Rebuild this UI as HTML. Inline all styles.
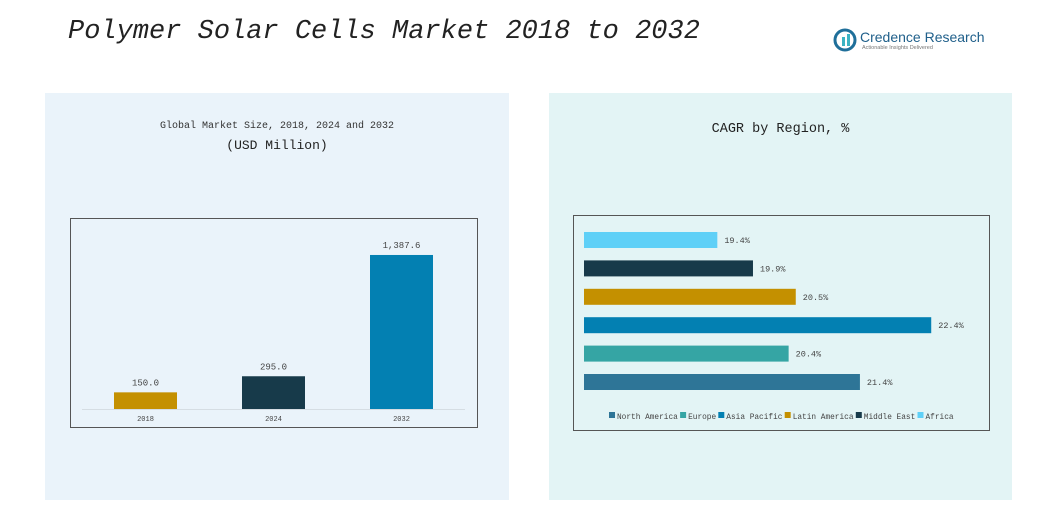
<!DOCTYPE html>
<html><head><meta charset="utf-8"><style>
body{margin:0;width:1062px;height:516px;background:#fff;position:relative;overflow:hidden;font-family:"Liberation Mono","Noto Sans CJK SC",monospace}
.abs{position:absolute}
</style></head><body>
<div class="abs" style="left:68px;top:17px;font:italic 27px 'Liberation Mono',monospace;color:#222;white-space:nowrap">Polymer Solar Cells Market 2018 to 2032</div>
<div class="abs" style="left:833px;top:28px;width:160px;height:26px">
 <svg width="26" height="24"><circle cx="12" cy="12" r="10" fill="none" stroke="#1f6f9a" stroke-width="3"/><rect x="9" y="9" width="3" height="9" fill="#3bb3c3"/><rect x="14" y="6" width="3" height="12" fill="#3bb3c3"/></svg>
 <span class="abs" style="left:27px;top:1px;font:14px 'Liberation Sans',sans-serif;color:#1f5f8a;white-space:nowrap">Credence Research</span>
 <span class="abs" style="left:29px;top:17px;font:5.5px 'Liberation Sans',sans-serif;color:#777;white-space:nowrap">Actionable Insights Delivered</span>
</div>
<div class="abs" style="left:45px;top:93px;width:464px;height:407px;background:#eaf3fa"></div>
<div class="abs" style="left:549px;top:93px;width:463px;height:407px;background:#e3f4f5"></div>
<div class="abs" style="left:45px;top:121px;width:464px;text-align:center;font-size:10px;color:#333">Global Market Size, 2018, 2024 and 2032</div>
<div class="abs" style="left:45px;top:138px;width:464px;text-align:center;font-size:13px;color:#222">(USD Million)</div>
<div class="abs" style="left:549px;top:122px;width:463px;text-align:center;font-size:13.5px;color:#222">CAGR by Region, %</div>
<svg class="abs" style="left:0;top:0" width="1062" height="516" id="svg">
<rect x="70.5" y="218.5" width="407" height="209" fill="none" stroke="#555"/>
<line x1="82" y1="409.5" x2="465" y2="409.5" stroke="#d5dde3"/>
<rect x="573.5" y="215.5" width="416" height="215" fill="none" stroke="#555"/>
</svg>
<script>
const years=["2018","2024","2032"];
const sizes=[150.0,295.0,1387.6];
const sizeLabels=["150.0","295.0","1,387.6"];
const regions=["North America","Europe","Asia Pacific","Latin America","Middle East","Africa"];
const cagr=[21.4,20.4,22.4,20.5,19.9,19.4];
const cagrLabels=["21.4%","20.4%","22.4%","20.5%","19.9%","19.4%"];
const yearColors=["#c49000","#173a4a","#0380b2"];
const regionColors=["#2e7597","#35a5a4","#0380b2","#c49000","#173a4a","#5fd0f7"];
const svg=document.getElementById('svg');const NS="http://www.w3.org/2000/svg";
function mk(t,a){const e=document.createElementNS(NS,t);for(const k in a)e.setAttribute(k,a[k]);svg.appendChild(e);return e;}
const base=409, yS=v=>v*0.111;
const xC=i=>145.5+i*128;
years.forEach((y,i)=>{
 const h=yS(sizes[i]);
 const r=mk('rect',{x:xC(i)-31.5,y:base-h,width:63,height:h,fill:yearColors[i]});
 
 
 const t=mk('text',{x:xC(i),y:base-h-7,'text-anchor':'middle','font-size':9,fill:'#444','font-family':'Liberation Mono'});t.textContent=sizeLabels[i];
 
 
 const l=mk('text',{x:xC(i),y:421,'text-anchor':'middle','font-size':7,fill:'#444','font-family':'Liberation Mono'});l.textContent=y;
 
 
});
const x0=584, xW=v=>(v-17.53)*71.3;
const yR=i=>382-i*28.4;
regions.forEach((r,i)=>{
 const w=xW(cagr[i]);
 const b=mk('rect',{x:x0,y:yR(i)-8,width:w,height:16,fill:regionColors[i]});
 
 
 const t=mk('text',{x:x0+w+7,y:yR(i)+3,'font-size':8.5,fill:'#444','font-family':'Liberation Mono'});t.textContent=cagrLabels[i];
 
 
});
let lx=609;
regions.forEach((r,i)=>{
 const s=mk('rect',{x:lx,y:412,width:6,height:6,fill:regionColors[i]});
 
 
 const t=mk('text',{x:lx+8,y:419,'font-size':7.8,fill:'#444','font-family':'Liberation Mono'});t.textContent=r;
 
 
 lx+=8+r.length*4.7+2;
});
</script>
</body></html>
